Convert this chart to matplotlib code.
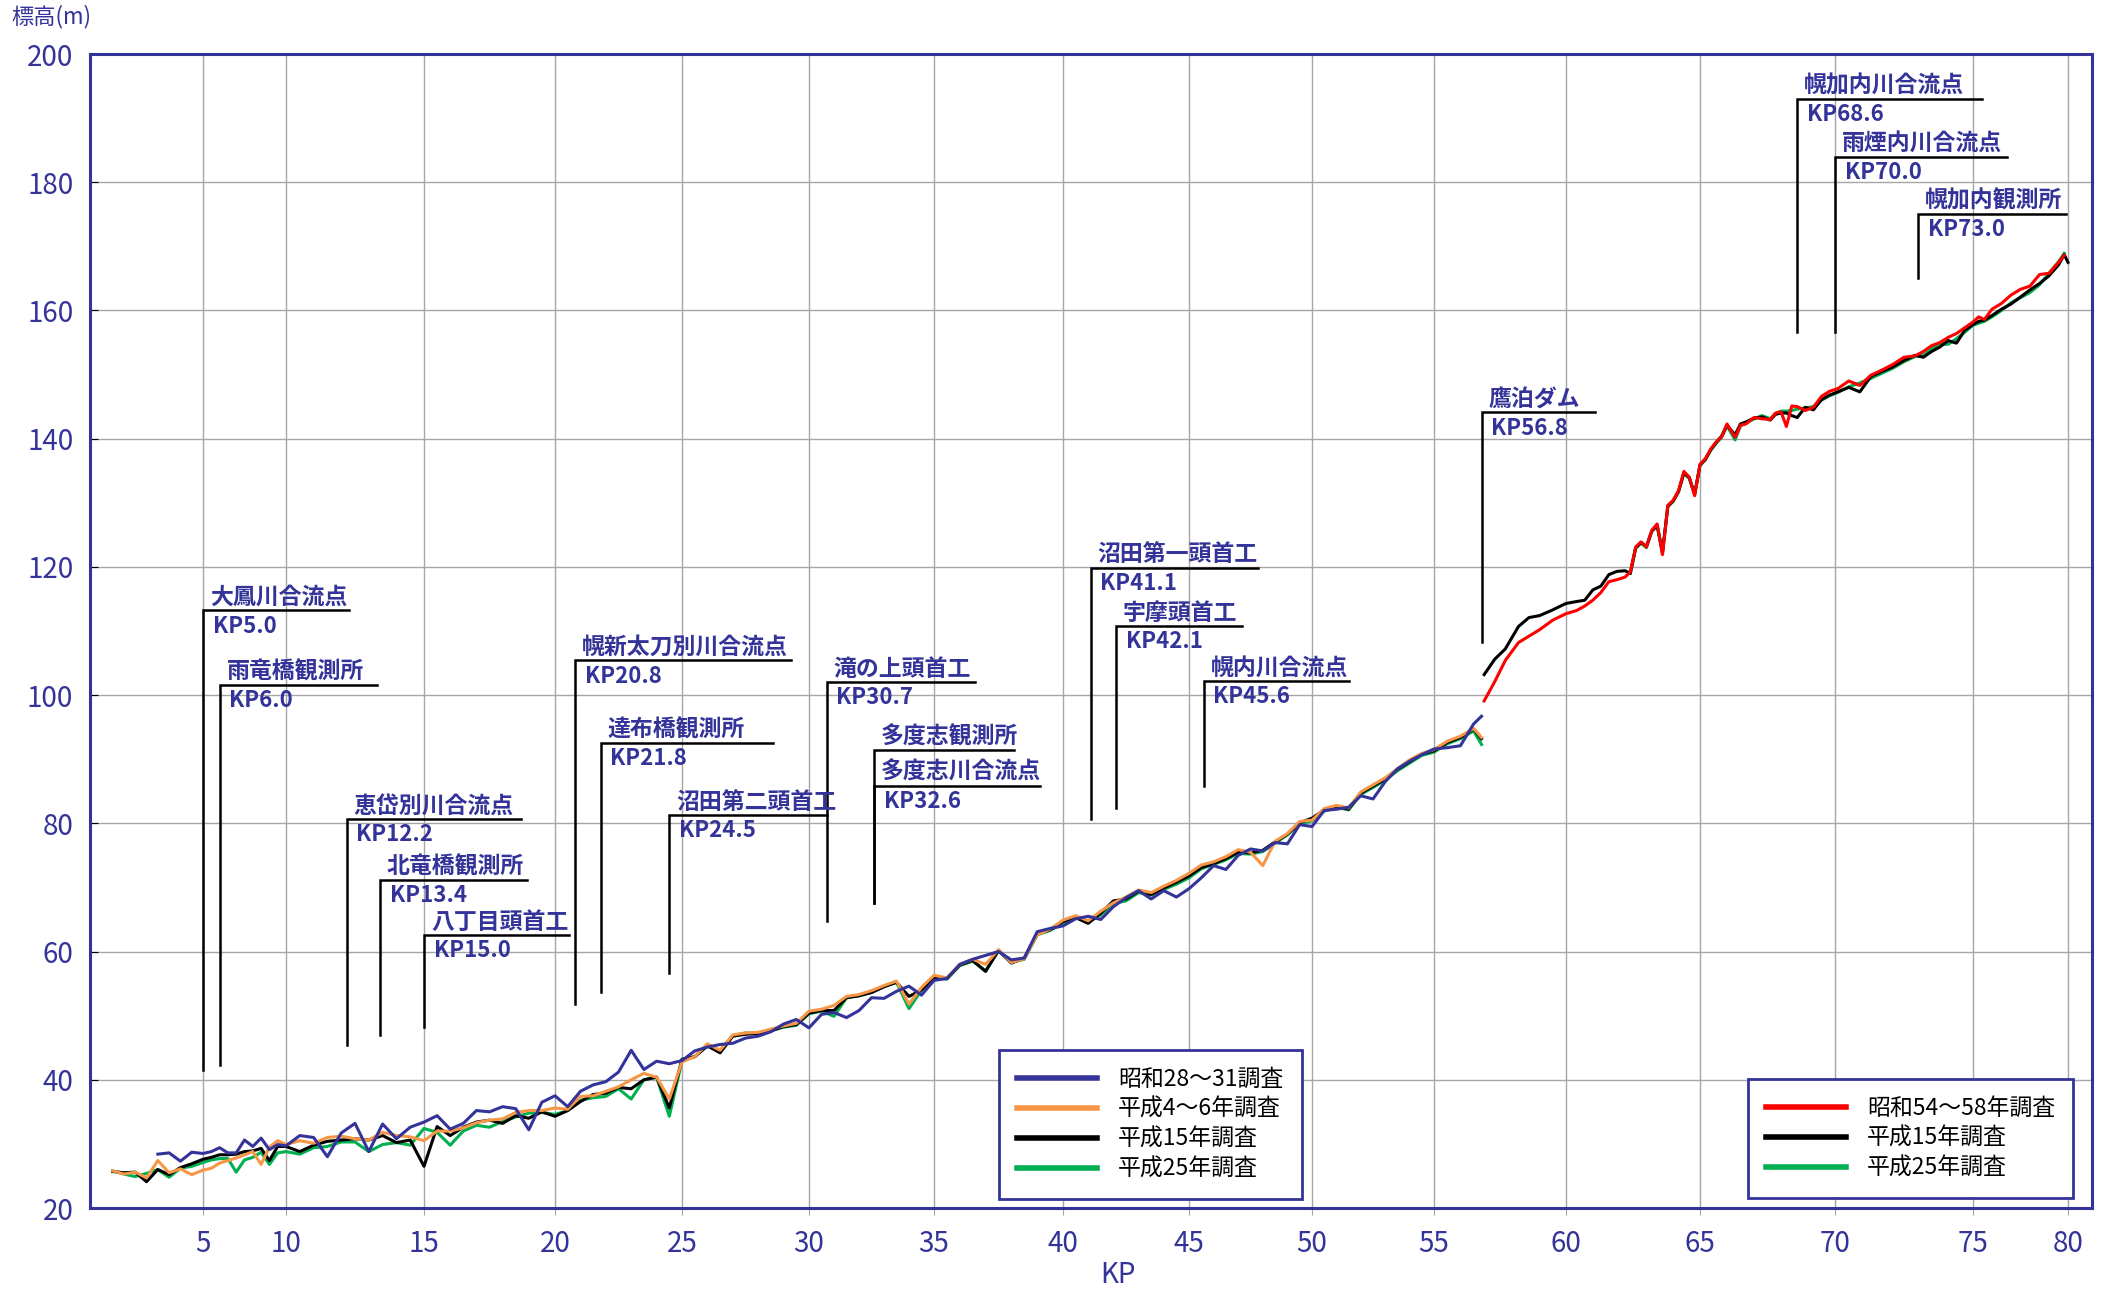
import matplotlib
matplotlib.use("Agg")
import matplotlib.pyplot as plt
import numpy as np

plt.rcParams['font.family'] = ['Noto Sans CJK JP', 'DejaVu Sans']

NAVY = '#333399'
NUM_FONT = ['Liberation Sans Narrow', 'Noto Sans CJK JP']

# --- lower reach (KP 1.0 - 56.8), surveyed every 0.5 km ---
low_kp = np.append(np.arange(1.0, 56.75, 0.5), 56.8)

s28_31 = [np.nan, np.nan, np.nan, np.nan, 28.4, 28.6, 27.3, 28.7, 28.5, 28.8,
          29.4, 28.6, 28.6, 30.6, 29.6, 30.9, 29.1, 29.9, 29.7, 31.3,
          31.0, 28.0, 31.7, 33.2, 28.8, 33.1, 30.8, 32.6, 33.4, 34.4,
          32.3, 33.2, 35.2, 35.0, 35.8, 35.5, 32.2, 36.5, 37.5, 35.8,
          38.2, 39.2, 39.7, 41.2, 44.6, 41.6, 42.9, 42.5, 43.0, 44.5,
          45.1, 45.5, 45.7, 46.5, 46.8, 47.5, 48.7, 49.4, 48.1, 50.2,
          50.5, 49.7, 50.8, 52.8, 52.7, 53.8, 54.6, 53.2, 55.5, 55.8,
          58.0, 58.8, 59.4, 60.0, 58.7, 59.0, 63.1, 63.6, 64.0, 65.1,
          65.5, 65.0, 67.0, 68.4, 69.5, 68.2, 69.5, 68.5, 69.8, 71.5,
          73.4, 72.8, 75.0, 76.0, 75.7, 77.0, 76.8, 79.8, 79.5, 82.0,
          82.2, 82.5, 84.3, 83.8, 86.5, 88.5, 89.7, 90.7, 91.6, 91.8,
          92.1, 95.5, 96.7]

h4_6 = [25.8, 25.3, 25.6, 24.7, 27.4, 25.5, 26.1, 25.2, 25.9, 26.2,
        27.0, 27.4, 27.8, 28.3, 28.8, 26.8, 29.5, 30.5, 29.9, 30.5,
        30.1, 31.0, 31.2, 30.8, 30.6, 31.8, 31.3, 31.1, 30.5, 32.0,
        32.0, 32.5, 33.3, 33.7, 33.9, 34.9, 35.2, 35.2, 35.6, 35.4,
        37.4, 37.5, 38.2, 38.9, 40.0, 41.0, 40.4, 37.0, 42.8, 43.6,
        45.6, 44.6, 47.0, 47.3, 47.4, 47.9, 48.4, 48.8, 50.7, 51.0,
        51.6, 53.0, 53.3, 53.9, 54.7, 55.4, 51.8, 54.4, 56.3, 55.9,
        58.0, 58.8, 58.0, 60.3, 58.3, 58.9, 62.6, 63.5, 64.9, 65.6,
        64.8, 66.3, 67.6, 68.5, 69.6, 69.2, 70.2, 71.1, 72.2, 73.5,
        74.0, 74.8, 75.9, 75.5, 73.4, 77.2, 78.4, 80.3, 80.5, 82.3,
        82.8, 82.4, 84.9, 86.0, 87.1, 88.5, 89.9, 90.9, 91.5, 92.8,
        93.6, 94.8, 93.4]

h15_low = [25.7, 25.5, 25.6, 24.1, 26.0, 25.2, 26.3, 26.9, 27.6, 27.9,
           28.3, 28.3, 28.4, 28.8, 28.9, 29.3, 27.4, 29.6, 29.6, 28.8,
           29.8, 30.4, 30.6, 30.8, 30.6, 31.3, 30.2, 30.6, 26.5, 32.7,
           31.3, 32.6, 33.4, 33.7, 33.2, 34.4, 34.0, 35.0, 34.3, 35.2,
           36.6, 37.7, 37.9, 38.8, 38.6, 40.0, 40.4, 35.6, 43.2, 43.6,
           45.3, 44.2, 46.8, 47.1, 47.2, 47.6, 48.3, 48.6, 50.4, 50.8,
           50.8, 52.8, 53.1, 53.6, 54.5, 55.2, 53.0, 54.0, 56.0, 55.8,
           57.9, 58.6, 56.9, 60.2, 58.2, 59.0, 62.8, 63.4, 64.7, 65.3,
           64.4, 66.0, 67.9, 68.2, 69.4, 68.9, 69.9, 70.8, 71.8, 73.1,
           73.7, 74.5, 75.5, 75.4, 75.8, 77.1, 78.3, 80.1, 80.8, 82.1,
           82.7, 82.2, 84.7, 85.8, 86.9, 88.4, 89.6, 90.8, 91.3, 92.6,
           93.4, 94.7, 93.2]

h25_low = [25.8, 25.3, 24.9, 25.4, 26.0, 24.8, 26.2, 26.5, 27.1, 27.5,
           27.7, 27.7, 25.6, 27.5, 27.9, 28.7, 26.8, 28.6, 28.8, 28.4,
           29.4, 29.6, 30.3, 30.3, 28.8, 29.9, 30.2, 29.8, 32.4, 31.8,
           29.8, 32.0, 32.9, 32.6, 33.5, 34.2, 34.8, 34.9, 34.6, 35.2,
           36.8, 37.2, 37.4, 38.6, 37.0, 40.0, 40.4, 34.3, 43.0, 43.6,
           45.3, 44.5, 46.9, 47.3, 47.3, 47.7, 48.2, 48.5, 50.3, 50.7,
           49.9, 52.8, 53.1, 53.7, 54.6, 55.2, 51.1, 54.0, 56.0, 55.7,
           57.8, 58.5, 57.0, 60.1, 58.3, 58.8, 62.6, 63.3, 64.4, 65.3,
           64.6, 65.7, 67.5, 67.9, 69.2, 68.8, 69.7, 70.5, 71.5, 72.9,
           73.6, 74.3, 75.3, 75.2, 75.6, 76.9, 78.2, 79.9, 80.4, 81.9,
           82.5, 82.1, 84.5, 85.6, 86.7, 88.2, 89.4, 90.6, 91.1, 92.4,
           93.2, 94.4, 92.3]

# --- upper reach (above 鷹泊ダム) ---
up_kp = [56.9, 57.3, 57.7, 58.2, 58.6, 59.0, 59.5, 60.0, 60.4, 60.7,
         61.0, 61.3, 61.6, 61.9, 62.2, 62.4, 62.6, 62.8, 63.0, 63.2,
         63.4, 63.6, 63.8, 64.0, 64.2, 64.4, 64.6, 64.8, 65.0, 65.2,
         65.4, 65.6, 65.8, 66.0, 66.3, 66.5, 66.7, 67.0, 67.3, 67.6,
         67.8, 68.0, 68.2, 68.4, 68.6, 68.9, 69.2, 69.5, 69.8, 70.1,
         70.5, 70.9, 71.3, 71.7, 72.1, 72.5, 72.9, 73.2, 73.5, 73.8,
         74.1, 74.4, 74.7, 75.0, 75.3, 75.6, 76.0, 76.5, 77.0, 77.5,
         78.0, 78.5, 79.0, 79.5, 79.8, 80.0]

s54_58 = [99.1, 102.1, 105.4, 108.2, 109.2, 110.2, 111.7, 112.7, 113.2, 113.9,
          114.8, 116.0, 117.7, 118.0, 118.4, 119.2, 123.1, 123.9, 123.1, 125.7,
          126.7, 121.9, 129.6, 130.4, 131.9, 134.9, 134.0, 131.1, 136.0, 136.9,
          138.4, 139.5, 140.3, 142.3, 140.2, 142.1, 142.3, 143.3, 143.1, 143.0,
          144.0, 144.2, 141.9, 145.1, 145.0, 144.4, 144.9, 146.6, 147.4, 147.8,
          149.0, 148.3, 149.9, 150.7, 151.6, 152.7, 152.9, 153.6, 154.5, 155.0,
          155.8, 156.4, 157.3, 158.2, 159.0, 158.6, 160.2, 161.1, 162.4, 163.3,
          163.8, 165.6, 165.8, 167.5, 168.6, np.nan]

h15_up = [103.2, 105.6, 107.2, 110.7, 112.1, 112.4, 113.3, 114.3, 114.6, 114.8,
          116.4, 117.0, 118.8, 119.3, 119.4, 119.0, 123.0, 123.8, 123.2, 125.6,
          126.5, 122.2, 129.5, 130.3, 131.8, 134.7, 133.9, 131.3, 135.9, 136.8,
          138.3, 139.4, 140.4, 142.1, 140.6, 142.3, 142.6, 143.2, 143.4, 142.9,
          143.8, 144.0, 144.0, 143.6, 143.3, 144.9, 144.5, 146.1, 146.8, 147.3,
          148.0, 147.3, 149.7, 150.5, 151.2, 152.2, 153.0, 152.7, 153.6, 154.3,
          155.3, 154.9, 156.9, 157.8, 158.3, 158.5, 159.2, 160.2, 161.0, 162.1,
          163.2, 164.2, 165.4, 167.1, 168.7, 167.5]

h25_up = [np.nan, np.nan, np.nan, np.nan, np.nan, np.nan, np.nan, np.nan, np.nan, np.nan,
          np.nan, np.nan, np.nan, np.nan, np.nan, 119.0, 122.9, 123.7, 123.0, 125.5,
          126.4, 122.3, 129.4, 130.2, 131.7, 134.6, 133.8, 131.4, 135.8, 136.7,
          138.2, 139.3, 140.2, 142.0, 139.8, 142.0, 142.4, 143.1, 143.6, 143.1,
          143.9, 144.3, 144.3, 144.4, 144.6, 144.8, 145.0, 146.0, 146.7, 147.2,
          148.1, 148.7, 149.4, 150.2, 151.0, 152.0, 152.8, 153.0, 154.0, 154.8,
          154.7, 155.6, 156.6, 157.7, 158.0, 158.3, 159.0, 160.0, 161.2, 162.0,
          162.8, 164.0, 165.8, 167.6, 168.9, np.nan]

# --- landmarks ---
ann_names = ['大鳳川合流点', '雨竜橋観測所', '恵岱別川合流点', '北竜橋観測所', '八丁目頭首工',
             '幌新太刀別川合流点', '達布橋観測所', '沼田第二頭首工', '滝の上頭首工',
             '多度志観測所', '多度志川合流点', '沼田第一頭首工', '宇摩頭首工', '幌内川合流点',
             '鷹泊ダム', '幌加内川合流点', '雨煙内川合流点', '幌加内観測所']
ann_kp = [5.0, 6.0, 12.2, 13.4, 15.0, 20.8, 21.8, 24.5, 30.7,
          32.6, 32.6, 41.1, 42.1, 45.6, 56.8, 68.6, 70.0, 73.0]
ann_show_kp = [True] * 9 + [False] + [True] * 8
# leader line: top elevation, bottom elevation, end of the horizontal bar (KP)
ann_top = [113.2, 101.6, 80.7, 71.2, 62.6, 105.4, 92.5, 81.3, 102.0,
           91.4, 85.9, 119.9, 110.8, 102.2, 144.1, 193.0, 184.0, 175.1]
ann_bottom = [41.5, 42.3, 45.5, 47.0, 48.2, 51.8, 53.7, 56.7, 64.7,
              67.6, 67.6, 80.7, 82.4, 85.8, 108.3, 156.6, 156.6, 165.0]
ann_end = [12.3, 13.3, 18.7, 18.95, 20.55, 29.3, 28.6, 30.7, 36.6,
           38.1, 39.1, 47.8, 47.15, 51.5, 61.1, 75.45, 76.8, 79.9]

# KP axis is not uniform: gridline pixel positions
KP_BREAKS = [0, 5, 10, 15, 20, 25, 30, 35, 40, 45, 50, 55, 60, 65, 70, 75, 80, 81.26]
KP_PIX = [90, 203, 286, 424, 555, 682, 809, 934, 1063, 1189, 1312, 1434,
          1566, 1700, 1835, 1973, 2068, 2092]


def kp_fwd(v):
    return np.interp(v, KP_BREAKS, KP_PIX)


def kp_inv(v):
    return np.interp(v, KP_PIX, KP_BREAKS)


fig = plt.figure(figsize=(21.2, 12.9), dpi=100)
ax = fig.add_axes([90 / 2120, 1 - 1208 / 1290, 2002 / 2120, 1154 / 1290])
ax.set_xscale('function', functions=(kp_fwd, kp_inv))

lw = 2.2
l_h25 = ax.plot(low_kp, h25_low, color='#00B050', lw=lw, zorder=3, label='平成25年調査')[0]
l_h15 = ax.plot(low_kp, h15_low, color='black', lw=lw, zorder=4, label='平成15年調査')[0]
l_h46 = ax.plot(low_kp, h4_6, color='#F79646', lw=lw, zorder=5, label='平成4～6年調査')[0]
l_s28 = ax.plot(low_kp, s28_31, color=NAVY, lw=lw, zorder=6, label='昭和28～31調査')[0]

u_h25 = ax.plot(up_kp, h25_up, color='#00B050', lw=lw, zorder=3, label='平成25年調査')[0]
u_h15 = ax.plot(up_kp, h15_up, color='black', lw=lw, zorder=4, label='平成15年調査')[0]
u_s54 = ax.plot(up_kp, s54_58, color='#FF0000', lw=lw, zorder=5, label='昭和54～58年調査')[0]

for i, name in enumerate(ann_names):
    k = ann_kp[i]
    ax.plot([k, k, ann_end[i]], [ann_bottom[i], ann_top[i], ann_top[i]],
            color='black', lw=1.8, zorder=7, solid_joinstyle='miter')
    ax.annotate(name, xy=(k, ann_top[i]), xytext=(5, 1), textcoords='offset points',
                ha='left', va='bottom', fontsize=16.5, fontweight='bold', color=NAVY, zorder=8)
    if ann_show_kp[i]:
        ax.annotate(f'KP{k:.1f}', xy=(k, ann_top[i]), xytext=(7, -3), textcoords='offset points',
                    ha='left', va='top', fontsize=16, fontweight='bold', color=NAVY, zorder=8)

ax.set_xlim(0, 81.26)
ax.set_ylim(20, 200)
xt = list(range(5, 81, 5))
yt = list(range(20, 201, 20))
ax.set_xticks(xt, labels=[str(t) for t in xt], fontfamily=NUM_FONT)
ax.set_yticks(yt, labels=[str(t) for t in yt], fontfamily=NUM_FONT)
ax.tick_params(axis='both', labelsize=20, labelcolor=NAVY)
ax.tick_params(axis='x', direction='out', length=5, color='#A6A6A6', pad=10)
ax.tick_params(axis='y', direction='in', length=6, color='black', pad=12)
ax.grid(True, color='#A6A6A6', lw=1.0)
ax.set_axisbelow(True)
for s in ax.spines.values():
    s.set_color(NAVY)
    s.set_linewidth(2.2)

ax.set_xlabel('KP', fontsize=20, color=NAVY, fontfamily=NUM_FONT, va='center')
ax.xaxis.set_label_coords(0.5135, -0.058)
fig.text(11 / 2120, 1 - 17 / 1290, '標高(m)', ha='left', va='center', fontsize=16, color=NAVY)

leg_kw = dict(loc='upper left', fontsize=16.5, handlelength=3.5, handletextpad=0.9,
              labelspacing=0.3, borderpad=0.8, borderaxespad=0, fancybox=False,
              framealpha=1, edgecolor=NAVY)
leg1 = ax.legend(handles=[l_s28, l_h46, l_h15, l_h25], bbox_to_anchor=(0.454, 0.137), **leg_kw)
leg1.get_frame().set_linewidth(2)
for h in leg1.legend_handles:
    h.set_linewidth(4)
ax.add_artist(leg1)
leg2 = ax.legend(handles=[u_s54, u_h15, u_h25], bbox_to_anchor=(0.828, 0.112), **leg_kw)
leg2.get_frame().set_linewidth(2)
for h in leg2.legend_handles:
    h.set_linewidth(4)

fig.savefig('out.png', dpi=100)
